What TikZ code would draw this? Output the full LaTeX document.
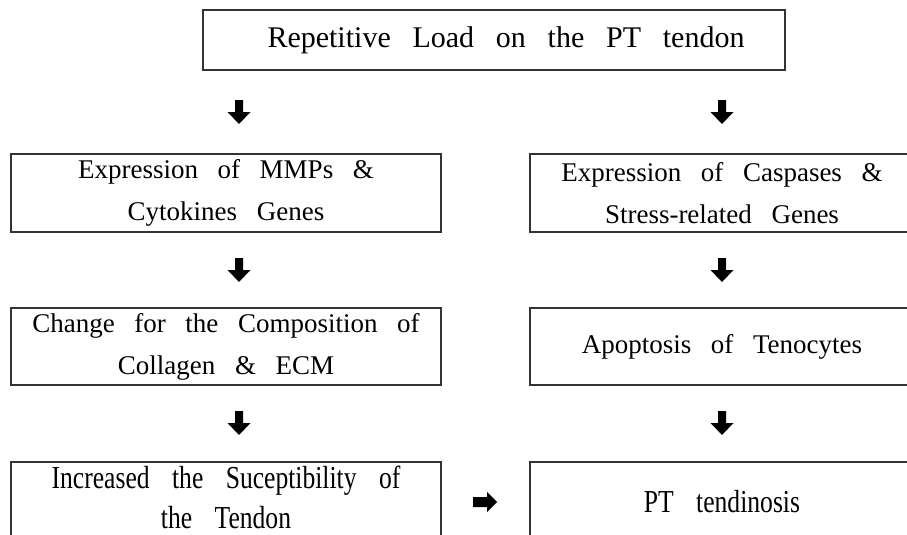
\documentclass[tikz,border=0pt]{standalone}
\usepackage{fontspec}
\setmainfont{Liberation Serif}[WordSpace=2.9]
\newfontfamily\narrowfont{Liberation Serif}[FakeStretch=0.8, WordSpace=3.5]
\begin{document}
\begin{tikzpicture}[x=1pt, y=-1pt,
  box/.style={draw=black!80, line width=1.2pt, fill=white, inner sep=0pt,
    align=center, font=\fontsize{27}{42}\selectfont},
  narrowbox/.style={box, font=\narrowfont\fontsize{32}{40}\selectfont},
  downblk/.pic={\fill[black] (-4,-12) -- (4,-12) -- (4,0) -- (11.5,0) -- (0,12)
      -- (-11.5,0) -- (-4,0) -- cycle;},
  rightblk/.pic={\fill[black] (-12,-5) -- (2,-5) -- (2,-10) -- (12,0) -- (2,10)
      -- (2,5) -- (-12,5) -- cycle;}]
\useasboundingbox (0,0) rectangle (907,535);

% top box
\node[box, minimum width=582pt, minimum height=60pt,
  font=\fontsize{30}{42}\selectfont] (load) at (494,40)
  {\hspace*{24pt}Repetitive Load on the PT tendon};

% left branch
\node[box, minimum width=430pt, minimum height=78pt] (mmp) at (226,193)
  {Expression of MMPs \&\\Cytokines Genes};
\node[box, minimum width=430pt, minimum height=77pt] (ecm) at (226,346.5)
  {Change for the Composition of\\Collagen \& ECM};
\node[narrowbox, minimum width=430pt, minimum height=80pt, text depth=9pt] (susc)
  at (226,502) {Increased the Suceptibility of\\the Tendon};

% right branch
\node[box, minimum width=384pt, minimum height=78pt] (casp) at (722,193)
  {Expression of Caspases \&\\Stress-related Genes};
\node[box, minimum width=384pt, minimum height=77pt] (apop) at (722,346.5)
  {Apoptosis of Tenocytes};
\node[narrowbox, minimum width=384pt, minimum height=80pt] (tend) at (722,502)
  {PT tendinosis};

% block arrows between the stages
\coordinate (aL1) at (239,112);
\coordinate (aR1) at (722,112);
\coordinate (aL2) at (239,270);
\coordinate (aR2) at (722,270);
\coordinate (aL3) at (239,423);
\coordinate (aR3) at (722,423);
\coordinate (aH) at (485,502);
\foreach \c in {aL1,aR1,aL2,aR2,aL3,aR3} \pic at (\c) {downblk};
\pic at (aH) {rightblk};
\end{tikzpicture}
\end{document}
